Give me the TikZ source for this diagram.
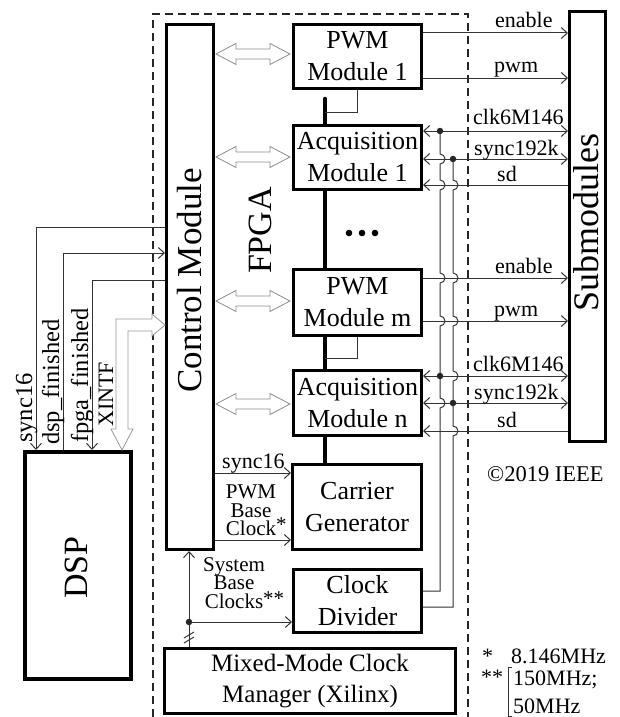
\documentclass[tikz,border=0pt]{standalone}
\usepackage{fontspec}
\setmainfont{Liberation Serif}
\usetikzlibrary{arrows.meta}
\newcommand{\hdarrow}[3]{\draw[hollow] (#1,#3) -- (#1+20,#3-10.5) -- (#1+20,#3-5) -- (#2-20,#3-5) -- (#2-20,#3-10.5) -- (#2,#3) -- (#2-20,#3+10.5) -- (#2-20,#3+5) -- (#1+20,#3+5) -- (#1+20,#3+10.5) -- cycle;}
\begin{document}
\begin{tikzpicture}[x=1pt,y=-1pt,
 >={Straight Barb[length=6pt,width=11pt]},
 box/.style={draw=black,line width=2.6pt,fill=white,inner sep=0pt,align=center,font=\fontsize{26}{32}\selectfont},
 sig/.style={draw=black!80,line width=1pt},
 lbl/.style={inner sep=0pt,font=\fontsize{22}{22}\selectfont},
 llbl/.style={inner sep=0pt,rotate=90,anchor=base west,font=\fontsize{24.5}{24.5}\selectfont},
 slbl/.style={inner sep=0pt,align=center,font={\fontsize{21}{18.4}\selectfont\lineskiplimit=-20pt}},
 biglbl/.style={inner sep=0pt,rotate=90},
 hollow/.style={draw=black!45,line width=0.8pt,fill=white},
 bus/.style={draw=black,line width=4.5pt,line cap=round},
 jdot/.style={circle,fill=black!85,inner sep=0pt,minimum size=6.5pt},
 fpgabox/.style={draw=black!85,line width=1.2pt,dash pattern=on 8pt off 5pt}]

\useasboundingbox (0,0) rectangle (619,717);
\draw[fpgabox] (153,717) -- (153,14) -- (468,14) -- (468,717);

% boxes
\node[box,minimum width=47.4pt,minimum height=525.4pt] (ctrl) at (190,287) {};
\node[box,minimum width=128.4pt,minimum height=64.4pt] (pwm1) at (357.5,56.5) {PWM\\Module 1};
\node[box,minimum width=128.4pt,minimum height=64.4pt] (acq1) at (357.5,157.5) {Acquisition\\Module 1};
\node[box,minimum width=128.4pt,minimum height=66.4pt] (pwmm) at (357.5,302.5) {PWM\\Module m};
\node[box,minimum width=128.4pt,minimum height=65.4pt] (acqn) at (357.5,403) {Acquisition\\Module n};
\node[box,minimum width=129.4pt,minimum height=85.4pt] (carrier) at (357,507) {Carrier\\Generator};
\node[box,minimum width=128.4pt,minimum height=63.4pt] (clkdiv) at (357.5,601) {Clock\\Divider};
\node[box,minimum width=291.4pt,minimum height=65.4pt,font=\fontsize{25}{31}\selectfont] (mmcm) at (310,681) {Mixed-Mode Clock\\Manager (Xilinx)};
\node[box,minimum width=36.4pt,minimum height=430.4pt] (sub) at (587.5,226.5) {};
\node[box,line width=4pt,minimum width=106pt,minimum height=227pt] (dsp) at (78,565.5) {};

% big labels
\node[biglbl,font=\fontsize{35}{35}\selectfont] (ctrllbl) at (189.5,280.5) {Control Module};
\node[biglbl,font=\fontsize{34}{34}\selectfont] (fpgalbl) at (260,230.5) {FPGA};
\node[biglbl,font=\fontsize{36}{36}\selectfont] (sublbl) at (586.5,222.5) {Submodules};
\node[biglbl,font=\fontsize{34}{34}\selectfont] (dsplbl) at (76.5,567.5) {DSP};

% bus
\coordinate (bustop) at (325,99);
\draw[bus] (bustop) -- (acq1.north -| bustop);
\draw[bus] (acq1.south -| bustop) -- (pwmm.north -| bustop);
\draw[bus] (pwmm.south -| bustop) -- (acqn.north -| bustop);
\draw[bus] (acqn.south -| bustop) -- (carrier.north -| bustop);
\coordinate (pb1) at (325,112);
\coordinate (pb2) at (325,358);
\draw[sig] (pwm1.south) |- (pb1);
\draw[sig] (pwmm.south) |- (pb2);
\fill[black] (349,233) circle (3.3pt) (362,233) circle (3.3pt) (375,233) circle (3.3pt);

% hollow double arrows
\hdarrow{216}{290}{54}
\hdarrow{216}{290}{157}
\hdarrow{216}{290}{301}
\hdarrow{216}{290}{404}

% right signals
\draw[sig,->] (pwm1.east |- 0,33) -- (sub.west |- 0,33);
\draw[sig,->] (pwm1.east |- 0,78) -- (sub.west |- 0,78);
\draw[sig,<->] (acq1.east |- 0,131) -- (sub.west |- 0,131);
\draw[sig,<->] (acq1.east |- 0,159) -- (sub.west |- 0,159);
\draw[sig,->] (sub.west |- 0,185) -- (acq1.east |- 0,185);
\draw[sig,->] (pwmm.east |- 0,278) -- (sub.west |- 0,278);
\draw[sig,->] (pwmm.east |- 0,321) -- (sub.west |- 0,321);
\draw[sig,<->] (acqn.east |- 0,376) -- (sub.west |- 0,376);
\draw[sig,<->] (acqn.east |- 0,403) -- (sub.west |- 0,403);
\draw[sig,->] (sub.west |- 0,431) -- (acqn.east |- 0,431);

\node[lbl,anchor=base west] (len1) at (495,28) {enable};
\node[lbl,anchor=base west] (lpw1) at (494,72) {pwm};
\node[lbl,anchor=base west] (lck1) at (473,124) {clk6M146};
\node[lbl,anchor=base west] (lsy1) at (474,155) {sync192k};
\node[lbl,anchor=base west] (lsd1) at (497,181) {sd};
\node[lbl,anchor=base west] (len2) at (495,273) {enable};
\node[lbl,anchor=base west] (lpw2) at (494,316) {pwm};
\node[lbl,anchor=base west] (lck2) at (473,371) {clk6M146};
\node[lbl,anchor=base west] (lsy2) at (474,399) {sync192k};
\node[lbl,anchor=base west] (lsd2) at (497,427) {sd};

% clock divider distribution
\coordinate (ja) at (440,131);
\coordinate (jb) at (453,159);
\coordinate (jc) at (440,376);
\coordinate (jd) at (453,403);
\draw[sig] (ja) -- (440,154) arc[start angle=90,end angle=-90,radius=5pt]
  -- (440,180) arc[start angle=90,end angle=-90,radius=5pt]
  -- (440,273) arc[start angle=90,end angle=-90,radius=5pt]
  -- (440,316) arc[start angle=90,end angle=-90,radius=5pt]
  -- (440,398) arc[start angle=90,end angle=-90,radius=5pt]
  -- (440,591) -- (clkdiv.east |- 0,591);
\draw[sig] (jb) -- (453,180) arc[start angle=90,end angle=-90,radius=5pt]
  -- (453,273) arc[start angle=90,end angle=-90,radius=5pt]
  -- (453,316) arc[start angle=90,end angle=-90,radius=5pt]
  -- (453,371) arc[start angle=90,end angle=-90,radius=5pt]
  -- (453,426) arc[start angle=90,end angle=-90,radius=5pt]
  -- (453,607) -- (clkdiv.east |- 0,607);
\node[jdot] (dA) at (ja) {};
\node[jdot] (dB) at (jb) {};
\node[jdot] (dC) at (jc) {};
\node[jdot] (dD) at (jd) {};

% left signals to DSP
\coordinate (xs) at (36,0);
\coordinate (xd) at (63,0);
\coordinate (xf) at (92,0);
\coordinate (xx) at (122,0);
\draw[sig,->] (ctrl.west |- 0,227) -| (dsp.north -| xs);
\draw[sig,->] (dsp.north -| xd) |- (ctrl.west |- 0,253);
\draw[sig,->] (ctrl.west |- 0,280) -| (dsp.north -| xf);
\draw[hollow,draw=black!40] (ctrl.west |- 0,325) -- (152,314) -- (152,319) -- (116,319) -- (116,429) -- (111,429) -- (dsp.north -| xx) -- (133,429) -- (128,429) -- (128,331) -- (152,331) -- (152,336) -- cycle;

\node[llbl] (lsync) at (32,443) {sync16};
\node[llbl] (ldsp) at (59,445) {dsp\_finished};
\node[llbl] (lfpga) at (88,443) {fpga\_finished};
\node[llbl,font=\fontsize{22}{22}\selectfont] (lx) at (113,427) {XINTF};

% bottom signals
\draw[sig,->] (ctrl.east |- 0,473) -- (carrier.west |- 0,473);
\draw[sig,->] (ctrl.east |- 0,540) -- (carrier.west |- 0,540);
\coordinate (xm) at (189,0);
\draw[sig,->] (mmcm.north -| xm) -- (ctrl.south -| xm);
\node[jdot] (dm) at (189,622) {};
\draw[sig,->] (dm) -- (clkdiv.west |- dm);
\draw[sig] (184,638) -- (194,632);
\draw[sig] (184,643) -- (194,637);

\node[lbl,anchor=base west] (ls16b) at (222,468) {sync16};
\node[slbl] (lpwmclk) at (251,510.5) {PWM\\Base\\Clock\rlap{\raisebox{4pt}{*}}};
\node[slbl] (lsysclk) at (234,583) {System\\Base\\Clocks\rlap{\raisebox{3pt}{**}}};

% notes
\node[lbl,anchor=base west,font=\fontsize{22.5}{22.5}\selectfont] (copy) at (487,481) {©2019 IEEE};
\node[lbl,anchor=base west] (n1) at (482,663) {*};
\node[lbl,anchor=base west] (n1t) at (511,663) {8.146MHz};
\node[lbl,anchor=base west] (n2) at (481,684) {**};
\node[lbl,anchor=base west] (n2a) at (513,685) {150MHz;};
\node[lbl,anchor=base west] (n2b) at (513,713) {50MHz};
\draw[sig,line width=0.7pt] (512,667) -- (508,667) -- (508,716) -- (512,716);
\end{tikzpicture}
\end{document}
